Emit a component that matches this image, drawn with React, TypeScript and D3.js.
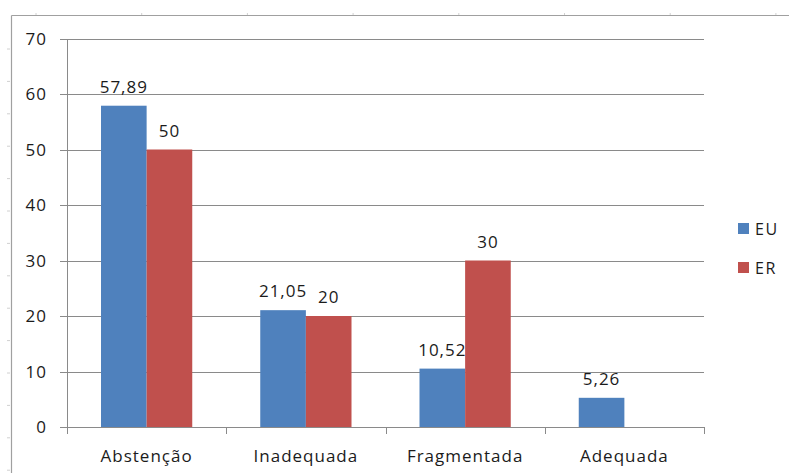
import React from "react";
import * as d3 from "d3";

const categories = ["Abstenção", "Inadequada", "Fragmentada", "Adequada"];
const seriesNames = ["EU", "ER"];
const euValues: (number | null)[] = [57.89, 21.05, 10.52, 5.26];
const erValues: (number | null)[] = [50, 20, 30, null];
const valueLabelsEU = ["57,89", "21,05", "10,52", "5,26"];
const valueLabelsER = ["50", "20", "30", ""];
const yTicks = [0, 10, 20, 30, 40, 50, 60, 70];

const colors = ["#4F81BD", "#C0504D"];
const W = 789;
const H = 473;
const FONT = "'Open Sans', 'Noto Sans', sans-serif";

export default function App() {
  const plotLeft = 67;
  const plotRight = 704;
  const y = d3.scaleLinear().domain([0, 70]).range([427, 38.5]);
  const x0 = d3.scaleBand().domain(categories).range([plotLeft, plotRight]).paddingInner(0).paddingOuter(0);
  const groupPad = 34;
  const x1 = d3
    .scaleBand()
    .domain(seriesNames)
    .range([groupPad, x0.bandwidth() - groupPad])
    .padding(0);

  const series = [euValues, erValues];
  const labels = [valueLabelsEU, valueLabelsER];
  const gridColor = "#8a8a8a";
  const textColor = "#1b1b1b";
  const fs = 17;
  const ls = 1;

  const topMarks = d3.range(36, W, 105.7);
  const leftMarks = d3.range(49, H, 32.4);

  return (
    <div style={{ position: "absolute", left: 0, top: 0 }}>
      <svg width={W} height={H} style={{ display: "block", background: "#fff" }}>
        {/* outer chart border */}
        <line x1={11.5} y1={15.5} x2={W} y2={15.5} stroke="#a0a0a0" strokeWidth={1.2} />
        <line x1={11.5} y1={15.5} x2={11.5} y2={H} stroke="#a0a0a0" strokeWidth={1.2} />
        {topMarks.map((m, i) => (
          <line key={"tm" + i} x1={m} x2={m} y1={13} y2={15} stroke="#d0d0d0" strokeWidth={1} />
        ))}
        {leftMarks.map((m, i) => (
          <line key={"lm" + i} x1={7} x2={10} y1={m} y2={m} stroke="#d0d0d0" strokeWidth={1} />
        ))}

        {/* gridlines + y ticks */}
        {yTicks.map((t) => (
          <g key={"g" + t}>
            <line
              x1={plotLeft - 7}
              x2={plotRight}
              y1={Math.round(y(t)) + 0.5}
              y2={Math.round(y(t)) + 0.5}
              stroke={gridColor}
              strokeWidth={1}
            />
            <text
              x={47}
              y={y(t)}
              dy="0.36em"
              textAnchor="end"
              fontFamily={FONT}
              fontSize={fs}
              letterSpacing={ls}
              fill={textColor}
            >
              {t}
            </text>
          </g>
        ))}
        {/* y axis */}
        <line
          x1={plotLeft + 0.5}
          x2={plotLeft + 0.5}
          y1={Math.round(y(70))}
          y2={Math.round(y(0)) + 1}
          stroke={gridColor}
          strokeWidth={1}
        />
        {/* x axis ticks */}
        {categories.map((c, i) => (
          <line
            key={"xt" + i}
            x1={Math.round(x0(c)!) + 0.5}
            x2={Math.round(x0(c)!) + 0.5}
            y1={y(0)}
            y2={y(0) + 7}
            stroke={gridColor}
            strokeWidth={1}
          />
        ))}
        <line
          x1={plotRight + 0.5}
          x2={plotRight + 0.5}
          y1={y(0)}
          y2={y(0) + 7}
          stroke={gridColor}
          strokeWidth={1}
        />

        {/* bars */}
        {series.map((vals, si) =>
          vals.map((v, ci) => {
            if (v == null) return null;
            const bx = x0(categories[ci])! + x1(seriesNames[si])!;
            return (
              <rect
                key={`b${si}-${ci}`}
                x={bx}
                y={y(v)}
                width={x1.bandwidth()}
                height={y(0) - y(v)}
                fill={colors[si]}
              />
            );
          })
        )}
        {/* value labels */}
        {series.map((vals, si) =>
          vals.map((v, ci) => {
            if (v == null || !labels[si][ci]) return null;
            const cx = x0(categories[ci])! + x1(seriesNames[si])! + x1.bandwidth() / 2;
            return (
              <text
                key={`l${si}-${ci}`}
                x={cx}
                y={y(v) - 13}
                textAnchor="middle"
                fontFamily={FONT}
                fontSize={fs}
                letterSpacing={ls}
                fill={textColor}
              >
                {labels[si][ci]}
              </text>
            );
          })
        )}
        {/* category labels */}
        {categories.map((c) => (
          <text
            key={"c" + c}
            x={x0(c)! + x0.bandwidth() / 2}
            y={462}
            textAnchor="middle"
            fontFamily={FONT}
            fontSize={fs}
            letterSpacing={ls}
            fill={textColor}
          >
            {c}
          </text>
        ))}

        {/* legend */}
        {seriesNames.map((s, i) => (
          <g key={"lg" + s} transform={`translate(738, ${223 + i * 39})`}>
            <rect x={0} y={0} width={11} height={11} fill={colors[i]} />
            <text
              x={17}
              y={12}
              fontFamily={FONT}
              fontSize={fs - 1}
              letterSpacing={1.5}
              fill={textColor}
            >
              {s}
            </text>
          </g>
        ))}
      </svg>
    </div>
  );
}
